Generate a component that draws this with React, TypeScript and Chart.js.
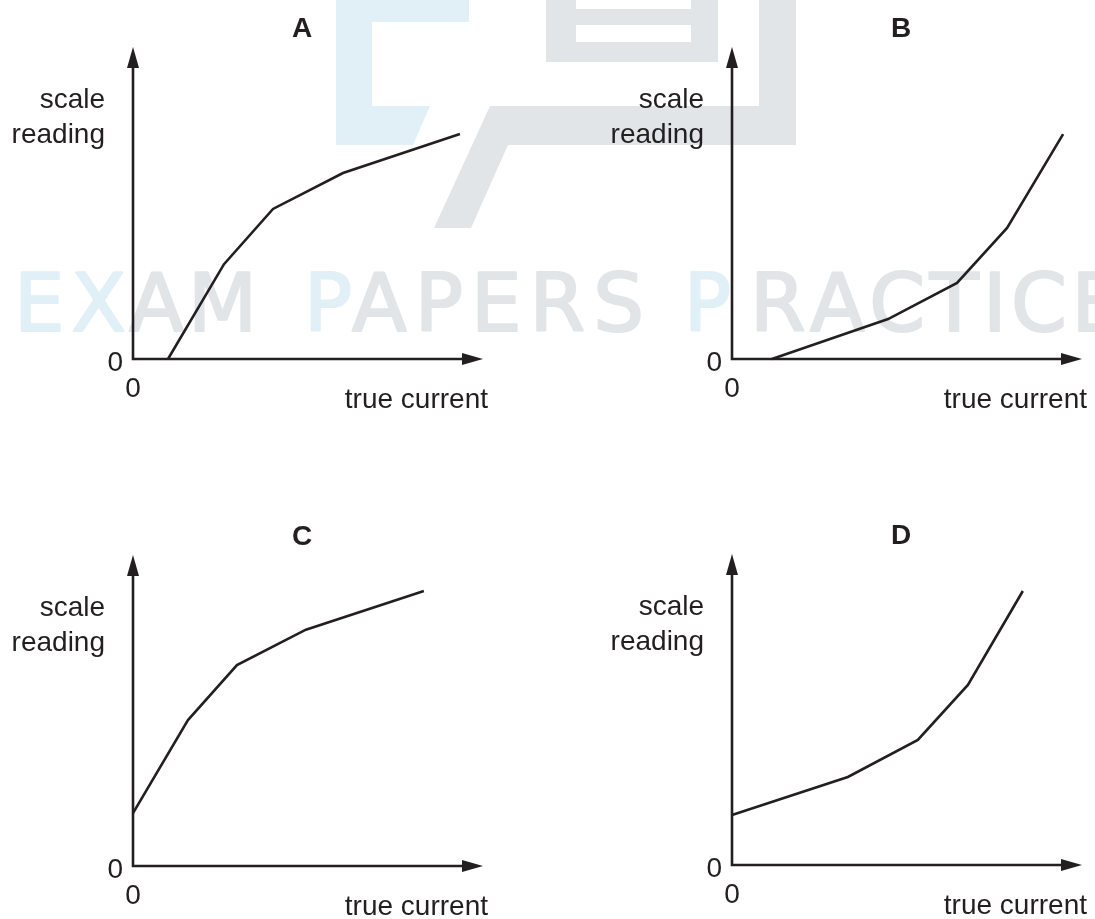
import React, { useEffect, useRef } from 'react';
import { Chart, registerables } from 'chart.js';

Chart.register(...registerables);

// ---------- data ----------
const panelTitles = ['A', 'B', 'C', 'D'];
const yAxisLabel = ['scale', 'reading'];
const xAxisLabel = 'true current';
const originLabel = '0';

// x: true current (0..10 along axis), y: scale reading (0..10 along axis)
const currentA = [1.0, 2.6, 4.0, 6.0, 9.34];
const readingA = [0, 3.04, 4.81, 5.96, 7.21];

const currentB = [1.14, 4.46, 6.43, 7.86, 9.46];
const readingB = [0, 1.28, 2.44, 4.2, 7.21];

const currentC = [0, 1.57, 2.97, 4.94, 8.31];
const readingC = [1.7, 4.69, 6.46, 7.6, 8.84];

const currentD = [0, 3.31, 5.31, 6.74, 8.31];
const readingD = [1.61, 2.83, 4.02, 5.79, 8.81];

const seriesX = [currentA, currentB, currentC, currentD];
const seriesY = [readingA, readingB, readingC, readingD];

// ---------- layout / style ----------
const W = 1095;
const H = 919;
const INK = '#231f20';
const FONT = '"Liberation Sans", Arial, Helvetica, sans-serif';
const AXIS_MAX = 10;

// origin (ox, oy) and arrow tips (tx, ty) of each panel, in page pixels
const panelBoxes = [
  { ox: 133, oy: 359, tx: 483, ty: 47 },
  { ox: 732, oy: 359, tx: 1082, ty: 47 },
  { ox: 133, oy: 866, tx: 483, ty: 555 },
  { ox: 732, oy: 865, tx: 1082, ty: 554 },
];

const WM_BLUE = '#e1f0f7';
const WM_GREY = '#e2e5e8';
const wmSegments: [string, string, number, number][] = [
  ['EX', WM_BLUE, 14, 126],
  ['AM', WM_GREY, 129, 257],
  ['P', WM_BLUE, 304, 352],
  ['APERS', WM_GREY, 352, 644],
  ['P', WM_BLUE, 684, 731],
  ['RACTICE', WM_GREY, 750, 1122],
];

function drawFitted(ctx: CanvasRenderingContext2D, text: string, x0: number, x1: number, baseline: number) {
  const chars = Array.from(text);
  const widths = chars.map((c) => ctx.measureText(c).width);
  const total = widths.reduce((a, b) => a + b, 0);
  const put = (c: string, x: number, sx: number) => {
    ctx.save();
    ctx.translate(x, baseline);
    ctx.scale(sx, 1);
    ctx.fillText(c, 0, 0);
    ctx.strokeText(c, 0, 0);
    ctx.restore();
  };
  if (chars.length === 1) {
    put(chars[0], x0, (x1 - x0) / total);
    return;
  }
  const gap = (x1 - x0 - total) / (chars.length - 1);
  let x = x0;
  chars.forEach((c, i) => {
    put(c, x, 1);
    x += widths[i] + gap;
  });
}

const watermarkPlugin = {
  id: 'watermark',
  beforeDraw(chart: any) {
    const ctx: CanvasRenderingContext2D = chart.ctx;
    ctx.save();
    // logo: blue bracket
    ctx.fillStyle = WM_BLUE;
    ctx.fillRect(336, 0, 133, 22);
    ctx.fillRect(336, 0, 36, 145);
    ctx.beginPath();
    ctx.moveTo(336, 106);
    ctx.lineTo(430, 106);
    ctx.lineTo(413, 145);
    ctx.lineTo(336, 145);
    ctx.closePath();
    ctx.fill();
    // logo: grey parts
    ctx.fillStyle = WM_GREY;
    ctx.fillRect(546, 0, 172, 62);
    ctx.fillRect(759, 0, 37, 145);
    ctx.beginPath();
    ctx.moveTo(490, 106);
    ctx.lineTo(796, 106);
    ctx.lineTo(796, 145);
    ctx.lineTo(508, 145);
    ctx.lineTo(471, 228);
    ctx.lineTo(434, 228);
    ctx.closePath();
    ctx.fill();
    ctx.fillStyle = '#ffffff';
    ctx.fillRect(576, 0, 115, 9);
    ctx.fillRect(576, 25, 115, 17);
    // text
    ctx.font = '80px "DejaVu Sans", sans-serif';
    ctx.textBaseline = 'alphabetic';
    ctx.textAlign = 'left';
    ctx.lineWidth = 2.2;
    ctx.lineJoin = 'round';
    wmSegments.forEach(([t, col, x0, x1]) => {
      ctx.fillStyle = col;
      ctx.strokeStyle = col;
      drawFitted(ctx, t, x0, x1, 331);
    });
    ctx.restore();
  },
};

const axesPlugin = {
  id: 'axesDecor',
  beforeDatasetsDraw(chart: any, _args: any, opts: any) {
    const ctx: CanvasRenderingContext2D = chart.ctx;
    const xs = chart.scales.x;
    const ys = chart.scales.y;
    const ox = xs.getPixelForValue(0);
    const oy = ys.getPixelForValue(0);
    const tx = xs.getPixelForValue(AXIS_MAX);
    const ty = ys.getPixelForValue(AXIS_MAX);
    ctx.save();
    ctx.strokeStyle = INK;
    ctx.fillStyle = INK;
    ctx.lineWidth = 2.6;
    ctx.lineJoin = 'miter';
    ctx.lineCap = 'butt';
    ctx.beginPath();
    ctx.moveTo(ox, ty + 18);
    ctx.lineTo(ox, oy);
    ctx.lineTo(tx - 18, oy);
    ctx.stroke();
    ctx.beginPath();
    ctx.moveTo(ox, ty);
    ctx.lineTo(ox - 6, ty + 21);
    ctx.lineTo(ox + 6, ty + 21);
    ctx.closePath();
    ctx.fill();
    ctx.beginPath();
    ctx.moveTo(tx, oy);
    ctx.lineTo(tx - 21, oy - 6);
    ctx.lineTo(tx - 21, oy + 6);
    ctx.closePath();
    ctx.fill();

    ctx.textBaseline = 'alphabetic';
    // title letter
    ctx.font = `bold 28px ${FONT}`;
    ctx.textAlign = 'center';
    ctx.fillText(opts.title, ox + 169, ty - 10);
    // axis labels
    ctx.font = `28px ${FONT}`;
    ctx.textAlign = 'right';
    ctx.fillText(yAxisLabel[0], ox - 28, ty + 61);
    ctx.fillText(yAxisLabel[1], ox - 28, ty + 96);
    ctx.fillText(originLabel, ox - 10, oy + 12);
    ctx.fillText(xAxisLabel, tx + 5, oy + 49);
    ctx.textAlign = 'center';
    ctx.fillText(originLabel, ox, oy + 38);
    ctx.restore();
  },
};

function Panel({ index }: { index: number }) {
  const ref = useRef<HTMLCanvasElement | null>(null);
  useEffect(() => {
    if (!ref.current) return;
    const box = panelBoxes[index];
    const xs = seriesX[index];
    const ysd = seriesY[index];
    const chart = new Chart(ref.current, {
      type: 'line',
      data: {
        datasets: [
          {
            data: xs.map((x, i) => ({ x, y: ysd[i] })),
            borderColor: INK,
            borderWidth: 2.6,
            pointRadius: 0,
            tension: 0,
            fill: false,
            clip: false as any,
          },
        ],
      },
      options: {
        responsive: false,
        animation: false,
        devicePixelRatio: 1,
        events: [],
        layout: {
          padding: { left: box.ox, top: box.ty, right: W - box.tx, bottom: H - box.oy },
        },
        scales: {
          x: { type: 'linear', min: 0, max: AXIS_MAX, display: false },
          y: { type: 'linear', min: 0, max: AXIS_MAX, display: false },
        },
        plugins: {
          legend: { display: false },
          tooltip: { enabled: false },
          title: { display: false },
          axesDecor: { title: panelTitles[index] },
        } as any,
      },
      plugins: index === 0 ? [watermarkPlugin, axesPlugin] : [axesPlugin],
    });
    return () => chart.destroy();
  }, [index]);
  return (
    <canvas
      ref={ref}
      width={W}
      height={H}
      style={{ position: 'absolute', left: 0, top: 0, width: W, height: H }}
    />
  );
}

export default function App() {
  return (
    <div style={{ position: 'absolute', left: 0, top: 0, width: W, height: H, background: '#ffffff', overflow: 'hidden' }}>
      {[0, 1, 2, 3].map((i) => (
        <Panel key={i} index={i} />
      ))}
    </div>
  );
}
